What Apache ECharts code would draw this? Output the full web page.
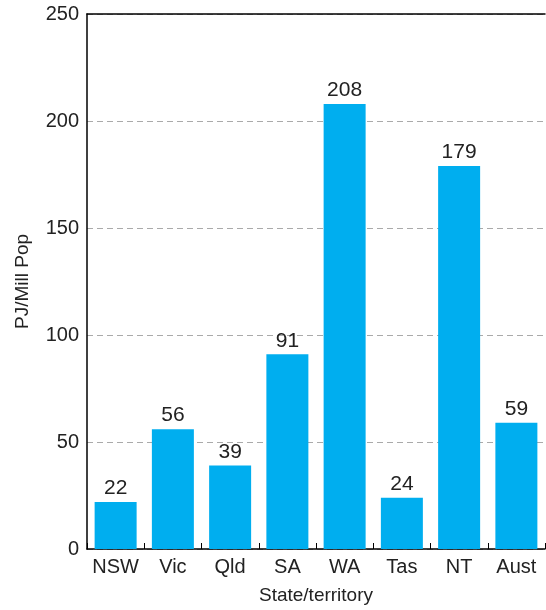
<!DOCTYPE html>
<html>
<head>
<meta charset="utf-8">
<script src="https://cdn.jsdelivr.net/npm/echarts@6/dist/echarts.min.js"></script>
<style>
  html, body { margin: 0; padding: 0; background: #fff; }
  #chart { width: 546px; height: 610px; }
</style>
</head>
<body>
<div id="chart"></div>
<script>
// 各州能源消耗 (PJ/Mill Pop)
const states = ['NSW', 'Vic', 'Qld', 'SA', 'WA', 'Tas', 'NT', 'Aust'];
const values = [22, 56, 39, 91, 208, 24, 179, 59];
const yTicks = [0, 50, 100, 150, 200, 250];

const font = 'Liberation Sans, Arial, sans-serif';

const myChart = echarts.init(document.getElementById('chart'));

const option = {
  animation: false,
  textStyle: { fontFamily: font },
  grid: { left: 87, right: 1, top: 14, bottom: 61, containLabel: false },
  xAxis: [
    {
      type: 'category',
      data: states,
      axisLine: { lineStyle: { color: '#000', width: 1.5 } },
      axisTick: { show: true, inside: true, length: 6, interval: 0, lineStyle: { color: '#000' } },
      axisLabel: { color: '#222', fontSize: 20, margin: 8, interval: 0, hideOverlap: false },
      name: 'State/territory',
      nameLocation: 'middle',
      nameGap: 37,
      nameTextStyle: { color: '#222', fontSize: 19 }
    },
    {
      type: 'category',
      data: states,
      position: 'top',
      axisLine: { show: true, lineStyle: { color: '#000', width: 1.5 } },
      axisTick: { show: false },
      axisLabel: { show: false }
    }
  ],
  yAxis: {
    type: 'value',
    min: yTicks[0],
    max: yTicks[yTicks.length - 1],
    interval: 50,
    axisLine: { show: true, lineStyle: { color: '#000', width: 1.5 } },
    axisTick: { show: false },
    axisLabel: { color: '#222', fontSize: 20, margin: 8 },
    splitLine: { show: true, lineStyle: { color: '#aaa', type: [6, 4] } },
    name: 'PJ/Mill Pop',
    nameLocation: 'middle',
    nameGap: 55,
    nameTextStyle: { color: '#222', fontSize: 19 }
  },
  series: [
    {
      type: 'bar',
      data: values,
      barWidth: 42,
      itemStyle: { color: '#00AEEF' },
      label: { show: true, position: 'top', color: '#222', fontSize: 21, distance: 3 }
    }
  ]
};

myChart.setOption(option);
</script>
</body>
</html>
